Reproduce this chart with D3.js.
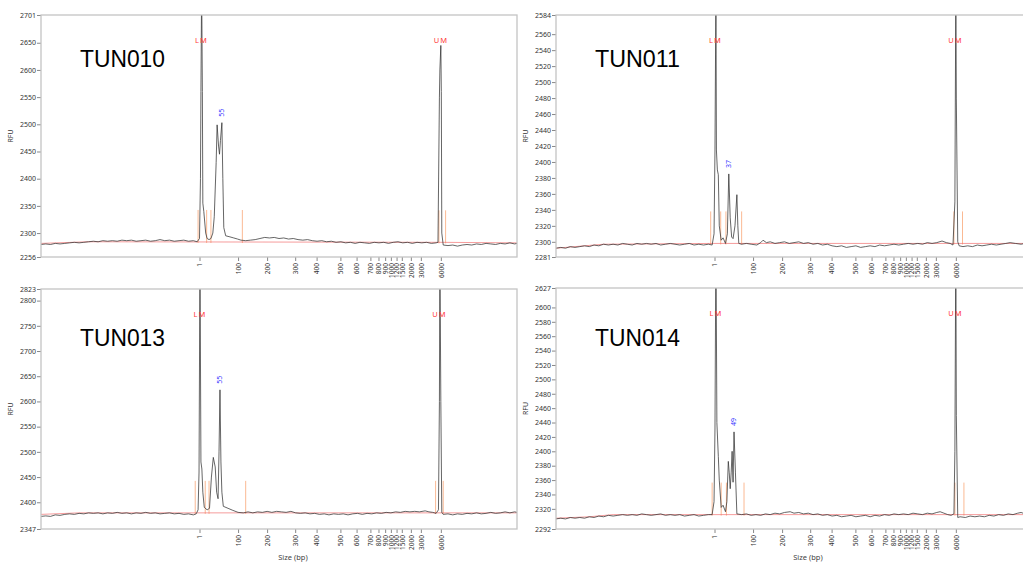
<!DOCTYPE html>
<html>
<head>
<meta charset="utf-8">
<script src="https://cdn.jsdelivr.net/npm/d3@7"></script>
<style>
  body { margin: 0; background: #fff; }
  svg { display: block; }
</style>
</head>
<body>
<div id="chart"></div>
<script>
// one electropherogram per sample
var samples = ["TUN010", "TUN011", "TUN013", "TUN014"];
var rfuMin = [2256, 2281, 2347, 2292];
var rfuMax = [2701, 2584, 2823, 2627];
var rfuStep = [50, 20, 50, 20];

// ladder sizes (bp) and where they fall on the migration axis (% of run)
var ladderSizes = [1, 100, 200, 300, 400, 500, 600, 700, 800, 900, 1000, 1200, 1500, 2000, 3000, 6000];
var ladderPos = [33.3, 41.4, 47.5, 53.4, 57.9, 62.9, 66.3, 69.2, 70.9, 72.3, 73.5, 74.7, 75.8, 77.7, 79.8, 84.0];

// traces: [migration %, RFU]
var trace010 = [[0,2279],[1,2280],[2,2279],[3,2281],[4,2280],[5,2281],[6,2282],[7,2283],[8,2282],[9,2283],[10,2284],
  [11,2285],[12,2284],[13,2286],[14,2285],[15,2286],[16,2285],[17,2287],[18,2286],[19,2287],[20,2285],[21,2286],
  [22,2287],[23,2285],[24,2286],[25,2288],[26,2286],[27,2287],[28,2285],[29,2286],[30,2287],[31,2285],[32,2286],
  [32.8,2284],[33.3,2290],[33.5,2400],[33.6,2560],[33.75,2760],[33.9,2560],[34.0,2355],[34.2,2340],[34.6,2300],
  [34.9,2290],[35.3,2288],[35.7,2290],[36.1,2300],[36.4,2330],[36.8,2430],[37.0,2499],[37.3,2460],[37.5,2445],
  [37.7,2470],[38.0,2503],[38.2,2400],[38.4,2310],[38.8,2295],[39.7,2293],[40.5,2291],[41.3,2289],[42,2287],
  [43,2286],[44,2287],[45,2288],[46,2290],[47,2292],[48,2291],[49,2292],[50,2290],[51,2291],[52,2289],[53,2290],
  [54,2288],[55,2287],[56,2288],[57,2286],[58,2285],[59,2286],[60,2284],[61,2285],[62,2283],[63,2284],[64,2282],
  [65,2283],[66,2281],[67,2283],[68,2282],[69,2281],[70,2283],[71,2282],[72,2283],[73,2281],[74,2283],[75,2284],
  [76,2282],[77,2283],[78,2281],[79,2283],[80,2282],[81,2283],[82,2281],[83,2282],[83.4,2283],[83.7,2550],
  [83.8,2600],[84.0,2645],[84.1,2560],[84.2,2300],[84.5,2278],[85.5,2277],[86.5,2278],[87.5,2276],[88.5,2278],
  [89.5,2279],[90.5,2278],[91.5,2280],[92.5,2279],[93.5,2281],[94.5,2280],[95.5,2279],[96.5,2281],[97.5,2280],
  [98.5,2282],[99.5,2280],[100,2281]];
var trace011 = [[0,2292],[1,2293],[2,2292],[3,2294],[4,2293],[5,2294],[6,2295],[7,2294],[8,2296],[9,2295],[10,2297],
  [11,2296],[12,2297],[13,2296],[14,2298],[15,2297],[16,2296],[17,2298],[18,2297],[19,2298],[20,2297],[21,2298],
  [22,2296],[23,2297],[24,2298],[25,2297],[26,2296],[27,2297],[28,2298],[29,2296],[30,2297],[31,2296],[32,2297],
  [32.8,2296],[33.2,2310],[33.4,2415],[33.6,2620],[33.7,2415],[33.9,2390],[34.1,2384],[34.3,2320],[34.7,2302],
  [35.1,2305],[35.6,2298],[36.0,2310],[36.3,2385],[36.6,2330],[36.9,2306],[37.2,2304],[37.6,2320],[38.0,2359],
  [38.2,2320],[38.4,2298],[39,2297],[40,2298],[41,2297],[42.2,2296],[43,2299],[43.5,2302],[44.2,2299],[45,2300],
  [46,2298],[47,2299],[48,2300],[49,2298],[50,2299],[51,2300],[52,2298],[53,2299],[54,2297],[55,2298],[56,2296],
  [57,2297],[58,2295],[59,2294],[60,2295],[61,2293],[62,2294],[63,2295],[64,2293],[65,2294],[66,2295],[67,2294],
  [68,2296],[69,2295],[70,2296],[71,2297],[72,2296],[73,2297],[74,2298],[75,2297],[76,2298],[77,2297],[78,2299],
  [79,2298],[80,2299],[81.1,2301],[82,2299],[82.8,2298],[83.4,2296],[83.8,2350],[84.0,2620],[84.1,2480],[84.4,2300],
  [84.7,2295],[85.5,2294],[86.5,2295],[87.5,2294],[88.5,2296],[89.5,2295],[90.5,2296],[91.5,2297],[92.5,2296],
  [93.5,2297],[94.5,2298],[95.4,2299],[96.5,2298],[97.7,2297],[98.5,2298],[100,2297]];
var trace013 = [[0,2372],[1,2373],[2,2372],[3,2375],[4,2374],[5,2376],[6,2377],[7,2376],[8,2378],[9,2377],[10,2379],
  [11,2378],[12,2379],[13,2377],[14,2379],[15,2378],[16,2380],[17,2378],[18,2379],[19,2377],[20,2379],[21,2378],
  [22,2380],[23,2378],[24,2379],[25,2377],[26,2378],[27,2379],[28,2377],[29,2378],[30,2376],[31,2377],[32,2375],
  [32.6,2377],[33.0,2385],[33.2,2460],[33.4,2900],[33.6,2480],[33.8,2466],[34.0,2420],[34.3,2390],[34.9,2385],
  [35.4,2388],[35.8,2450],[36.2,2489],[36.6,2470],[36.9,2420],[37.2,2407],[37.4,2500],[37.6,2623],[37.8,2480],
  [38.0,2420],[38.3,2392],[39.3,2388],[40.3,2384],[41.4,2380],[42.5,2379],[43.5,2381],[44.5,2379],[45.5,2381],
  [46.5,2380],[47.5,2382],[48.5,2380],[49.5,2382],[50.5,2381],[51.5,2380],[52.5,2382],[53.5,2379],[54.5,2378],
  [55.5,2379],[56.5,2377],[57.5,2378],[58.5,2376],[59.5,2377],[60.5,2375],[61.5,2377],[62.5,2376],[63.5,2377],
  [64.5,2375],[65.5,2377],[66.5,2378],[67.5,2376],[68.5,2378],[69.5,2377],[70.5,2379],[71.5,2378],[72.5,2380],
  [73.5,2379],[74.5,2381],[75.5,2380],[76.5,2382],[77.5,2381],[78.5,2382],[79.5,2381],[80.7,2383],[81.5,2381],
  [82.3,2380],[83,2378],[83.5,2385],[83.7,2600],[83.8,2900],[84.0,2600],[84.2,2380],[84.5,2376],[85.5,2377],
  [86.5,2375],[87.5,2377],[88.5,2376],[89.5,2378],[90.5,2377],[91.5,2379],[92.5,2377],[93.5,2378],[94.5,2380],
  [95.5,2378],[96.5,2379],[97.5,2381],[98.5,2379],[99.5,2381],[100,2380]];
var trace014 = [[0,2306],[1,2307],[2,2306],[3,2308],[4,2307],[5,2308],[6,2307],[7,2309],[8,2308],[9,2310],[10,2309],
  [11,2311],[12,2310],[13,2311],[14,2312],[15,2311],[16,2312],[17,2311],[18,2313],[19,2312],[20,2311],[21,2312],
  [22,2313],[23,2311],[24,2312],[25,2311],[26,2312],[27,2310],[28,2311],[29,2312],[30,2310],[31,2311],[32,2312],
  [32.8,2312],[33.2,2330],[33.4,2431],[33.6,2700],[33.8,2440],[34.1,2393],[34.3,2360],[34.7,2322],[35.1,2325],
  [35.6,2316],[35.9,2330],[36.2,2386],[36.4,2370],[36.6,2348],[36.8,2370],[37.0,2400],[37.2,2357],[37.4,2427],
  [37.7,2370],[38.0,2313],[39,2312],[40,2313],[41,2311],[42,2312],[43,2311],[44,2313],[45,2312],[46,2314],
  [47,2313],[48,2315],[49.2,2316],[50,2314],[51,2315],[52,2313],[53,2314],[54,2312],[55,2313],[56,2311],[57,2312],
  [58,2310],[59,2311],[60,2309],[61,2310],[62,2311],[63,2309],[64,2310],[65,2311],[66,2309],[67,2311],[68,2310],
  [69,2312],[70,2311],[71,2313],[72,2312],[73,2313],[74,2312],[75,2314],[76,2313],[77,2312],[78,2314],[79,2313],
  [80,2315],[80.7,2316],[81.5,2314],[82.3,2312],[83.0,2311],[83.6,2313],[83.8,2400],[84.0,2700],[84.1,2450],
  [84.4,2308],[84.9,2309],[86,2308],[87,2310],[88,2309],[89,2310],[90,2309],[91,2311],[92,2310],[93,2312],
  [94,2311],[95,2313],[96,2312],[97,2314],[97.7,2315],[98.5,2313],[100,2314]];
var traces = [trace010, trace011, trace013, trace014];

// fitted baselines
var baseline010 = [[0,2281],[10,2284],[84,2283],[100,2282]];
var baseline011 = [[0,2292],[6,2295],[10,2297],[33,2298],[100,2298]];
var baseline013 = [[0,2376],[8,2379],[100,2379]];
var baseline014 = [[0,2307],[7,2309],[12,2312],[100,2312]];
var baselines = [baseline010, baseline011, baseline013, baseline014];

// peak window markers (migration %)
var markers010 = [33.0, 34.8, 35.7, 42.3, 83.6, 85.0];
var markers011 = [32.5, 34.6, 35.7, 39.0, 83.6, 85.4];
var markers013 = [32.4, 34.5, 35.3, 43.0, 82.9, 84.5];
var markers014 = [32.8, 34.7, 35.8, 39.5, 83.8, 85.7];
var markers = [markers010, markers011, markers013, markers014];

var lmPos = [33.7, 33.5, 33.4, 33.6];
var umPos = [84.0, 83.9, 83.7, 83.9];
var peakSize = ["55", "37", "55", "49"];
var peakPos = [38.0, 36.3, 37.6, 37.4];
var peakRfu = [2503, 2385, 2623, 2427];

var svg = d3.select("#chart").append("svg")
  .attr("width", 1023)
  .attr("height", 565);

var plotW = 476;
var panelLeft = [41, 556, 41, 556];
var panelTop = [15, 15, 289, 288];
var panelH = [242, 242, 240, 241];
var titleBase = [67, 67, 346, 346];
var smallFont = "'Noto Sans', 'DejaVu Sans', sans-serif";

function drawPanel(i) {
  var h = panelH[i];
  var g = svg.append("g")
    .attr("transform", "translate(" + panelLeft[i] + "," + panelTop[i] + ")");

  var x = d3.scaleLinear().domain([0, 100]).range([0, plotW]);
  var y = d3.scaleLinear().domain([rfuMin[i], rfuMax[i]]).range([h, 0]);
  var base = d3.scaleLinear()
    .domain(baselines[i].map(function(d) { return d[0]; }))
    .range(baselines[i].map(function(d) { return d[1]; }));

  g.append("clipPath").attr("id", "clip" + i)
    .append("rect").attr("width", plotW).attr("height", h);

  var plot = g.append("g").attr("clip-path", "url(#clip" + i + ")");

  plot.selectAll(".marker").data(markers[i]).enter().append("line")
    .attr("x1", function(d) { return x(d); })
    .attr("x2", function(d) { return x(d); })
    .attr("y1", function(d) { return y(base(d)) + 1; })
    .attr("y2", function(d) { return y(base(d)) - 32; })
    .attr("stroke", "#f9a878")
    .attr("stroke-opacity", 0.8)
    .attr("stroke-width", 1);

  plot.append("path")
    .datum(baselines[i])
    .attr("d", d3.line().x(function(d) { return x(d[0]); }).y(function(d) { return y(d[1]); }))
    .attr("fill", "none")
    .attr("stroke", "#f26b6b")
    .attr("stroke-opacity", 0.75)
    .attr("stroke-width", 0.9);

  plot.append("path")
    .datum(traces[i])
    .attr("d", d3.line().x(function(d) { return x(d[0]); }).y(function(d) { return y(d[1]); }))
    .attr("fill", "none")
    .attr("stroke", "#333")
    .attr("stroke-width", 0.75);

  // lower / upper marker labels
  g.selectAll(".mk").data([["LM", lmPos[i]], ["UM", umPos[i]]]).enter().append("text")
    .attr("x", function(d) { return x(d[1]); })
    .attr("y", 28)
    .attr("text-anchor", "middle")
    .attr("font-family", smallFont)
    .attr("font-size", 7.5)
    .attr("letter-spacing", 1)
    .attr("fill", "#ff3838")
    .text(function(d) { return d[0]; });

  g.append("text")
    .attr("transform", "translate(" + x(peakPos[i]) + "," + (y(peakRfu[i]) - 10) + ") rotate(-90)")
    .attr("text-anchor", "middle")
    .attr("dy", "0.35em")
    .attr("font-family", smallFont)
    .attr("font-size", 7)
    .attr("fill", "#3a3aff")
    .text(peakSize[i]);

  // axes
  var yTicks = d3.range(Math.ceil((rfuMin[i] + 1) / rfuStep[i]) * rfuStep[i], rfuMax[i], rfuStep[i])
    .filter(function(v) { return y(v) > 9 && y(v) < h - 9; });
  yTicks = [rfuMin[i]].concat(yTicks, [rfuMax[i]]);

  var yAxis = g.append("g")
    .call(d3.axisLeft(y).tickValues(yTicks).tickSize(4).tickPadding(1).tickFormat(d3.format("d")))
    .attr("font-family", smallFont)
    .attr("font-size", 7);
  yAxis.select(".domain").remove();
  yAxis.selectAll("line").attr("stroke", "#888");
  yAxis.selectAll("text").attr("fill", "#333");

  var xAxis = g.append("g")
    .attr("transform", "translate(0," + h + ")")
    .call(d3.axisBottom(x).tickValues(ladderPos).tickSize(4)
      .tickFormat(function(d) { return ladderSizes[ladderPos.indexOf(d)]; }))
    .attr("font-family", smallFont)
    .attr("font-size", 6.5);
  xAxis.select(".domain").remove();
  xAxis.selectAll("line").attr("stroke", "#888");
  xAxis.selectAll("text")
    .attr("transform", "rotate(-90)")
    .attr("text-anchor", "end")
    .attr("x", -6)
    .attr("y", 0)
    .attr("dy", "0.35em")
    .attr("fill", "#333");

  g.append("rect")
    .attr("width", plotW)
    .attr("height", h)
    .attr("fill", "none")
    .attr("stroke", "#c4c4c4")
    .attr("stroke-width", 1.3);

  g.append("text")
    .attr("transform", "translate(-28," + h / 2 + ") rotate(-90)")
    .attr("text-anchor", "middle")
    .attr("font-family", smallFont)
    .attr("font-size", 7)
    .attr("fill", "#333")
    .text("RFU");

  if (i >= 2) {
    g.append("text")
      .attr("x", 252)
      .attr("y", h + 31)
      .attr("text-anchor", "middle")
      .attr("font-family", smallFont)
      .attr("font-size", 7.5)
      .attr("fill", "#444")
      .text("Size (bp)");
  }

  svg.append("text")
    .attr("x", panelLeft[i] + 39)
    .attr("y", titleBase[i])
    .attr("font-family", "'Liberation Sans', Arial, sans-serif")
    .attr("font-size", 24)
    .attr("textLength", 85)
    .attr("lengthAdjust", "spacingAndGlyphs")
    .attr("fill", "#000")
    .text(samples[i]);
}

for (var i = 0; i < samples.length; i++) drawPanel(i);
</script>
</body>
</html>
